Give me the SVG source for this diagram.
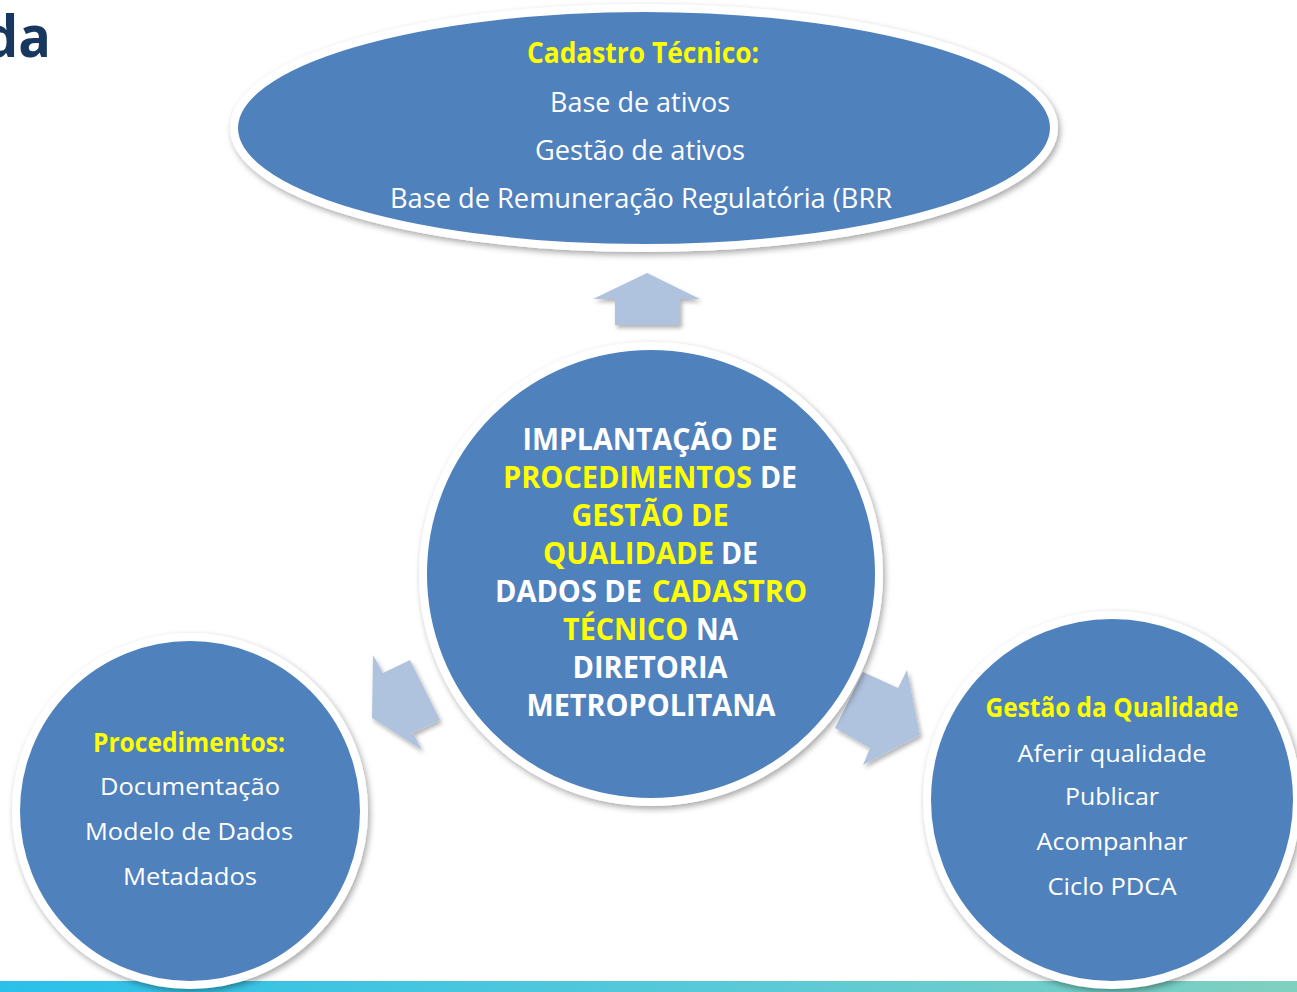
<svg xmlns="http://www.w3.org/2000/svg" width="1297" height="992" viewBox="0 0 1297 992">
<defs>
<linearGradient id="bar" x1="0" y1="0" x2="1" y2="0">
<stop offset="0" stop-color="#2BC0EA"/>
<stop offset="0.6" stop-color="#5CCAD6"/>
<stop offset="1" stop-color="#80D0BE"/>
</linearGradient>
<filter id="sh" x="-10%" y="-10%" width="120%" height="125%">
<feDropShadow dx="2" dy="3" stdDeviation="3" flood-color="#000" flood-opacity="0.35"/>
</filter>
<filter id="ash" x="-20%" y="-20%" width="140%" height="140%">
<feDropShadow dx="2" dy="3" stdDeviation="2" flood-color="#000" flood-opacity="0.3"/>
</filter>
<style>
.node{fill:#4F81BD;stroke:#FFFFFF;stroke-width:8}
.arrow{fill:#B0C3DE}
text{font-family:"Open Sans","Liberation Sans",sans-serif;text-anchor:middle;fill:#FFFFFF}
.st{text-anchor:start}
.b{font-weight:bold}
.y{fill:#FFFF00}
.t{font-size:28px}
.c{font-size:30px;font-weight:bold}
.s{font-size:24px}
.sb{font-size:26px;font-weight:bold}
</style>
</defs>
<rect x="0" y="981" width="1297" height="11" fill="url(#bar)"/>
<text x="-16" y="57" textLength="67" lengthAdjust="spacingAndGlyphs" style="font-size:58px;font-weight:bold;fill:#17375E;text-anchor:start">da</text>
<g id="connectors">
<polygon class="arrow" filter="url(#ash)" points="647,273 700,299 680,299 680,325 615,325 615,299 593,299"/>
<polygon class="arrow" filter="url(#ash)" points="373,655 383,673 410,660 440,720 413,733 422,750 372,718"/>
<polygon class="arrow" filter="url(#ash)" points="835,728 863,672 898,688 907,670 920,735 863,765 870,748"/>
</g>
<g id="top">
<ellipse class="node" filter="url(#sh)" cx="644" cy="128" rx="410" ry="120"/>
<text class="t b y st" x="527" y="63" textLength="232" lengthAdjust="spacingAndGlyphs">Cadastro Técnico:</text>
<text class="t" x="640" y="112" textLength="180" lengthAdjust="spacingAndGlyphs">Base de ativos</text>
<text class="t" x="640" y="160" textLength="210" lengthAdjust="spacingAndGlyphs">Gestão de ativos</text>
<text class="t" x="641" y="208" textLength="502" lengthAdjust="spacingAndGlyphs">Base de Remuneração Regulatória (BRR</text>
</g>
<g id="center">
<circle class="node" filter="url(#sh)" cx="651" cy="574" r="228"/>
<text class="c" x="650" y="450" textLength="255" lengthAdjust="spacingAndGlyphs">IMPLANTAÇÃO DE</text>
<text class="c y st" x="503" y="488" textLength="249" lengthAdjust="spacingAndGlyphs">PROCEDIMENTOS</text>
<text class="c st" x="760" y="488" textLength="37" lengthAdjust="spacingAndGlyphs">DE</text>
<text class="c y" x="650" y="526" textLength="157" lengthAdjust="spacingAndGlyphs">GESTÃO DE</text>
<text class="c y st" x="543" y="564" textLength="171" lengthAdjust="spacingAndGlyphs">QUALIDADE</text>
<text class="c st" x="721" y="564" textLength="37" lengthAdjust="spacingAndGlyphs">DE</text>
<text class="c st" x="495" y="602" textLength="147" lengthAdjust="spacingAndGlyphs">DADOS DE</text>
<text class="c y st" x="652" y="602" textLength="155" lengthAdjust="spacingAndGlyphs">CADASTRO</text>
<text class="c y st" x="563" y="640" textLength="125" lengthAdjust="spacingAndGlyphs">TÉCNICO</text>
<text class="c st" x="696" y="640" textLength="42" lengthAdjust="spacingAndGlyphs">NA</text>
<text class="c" x="650" y="678" textLength="155" lengthAdjust="spacingAndGlyphs">DIRETORIA</text>
<text class="c" x="651" y="716" textLength="249" lengthAdjust="spacingAndGlyphs">METROPOLITANA</text>
</g>
<g id="left">
<circle class="node" filter="url(#sh)" cx="190" cy="811" r="174"/>
<text class="sb y" x="189" y="752" textLength="192" lengthAdjust="spacingAndGlyphs">Procedimentos:</text>
<text class="s" x="190" y="795" textLength="180" lengthAdjust="spacingAndGlyphs">Documentação</text>
<text class="s" x="189" y="840" textLength="208" lengthAdjust="spacingAndGlyphs">Modelo de Dados</text>
<text class="s" x="190" y="885" textLength="134" lengthAdjust="spacingAndGlyphs">Metadados</text>
</g>
<g id="right">
<circle class="node" filter="url(#sh)" cx="1112" cy="800" r="185"/>
<text class="sb y" x="1112" y="717" textLength="253" lengthAdjust="spacingAndGlyphs">Gestão da Qualidade</text>
<text class="s" x="1112" y="762" textLength="189" lengthAdjust="spacingAndGlyphs">Aferir qualidade</text>
<text class="s" x="1112" y="805" textLength="94" lengthAdjust="spacingAndGlyphs">Publicar</text>
<text class="s" x="1112" y="850" textLength="151" lengthAdjust="spacingAndGlyphs">Acompanhar</text>
<text class="s" x="1112" y="895" textLength="129" lengthAdjust="spacingAndGlyphs">Ciclo PDCA</text>
</g>
</svg>
